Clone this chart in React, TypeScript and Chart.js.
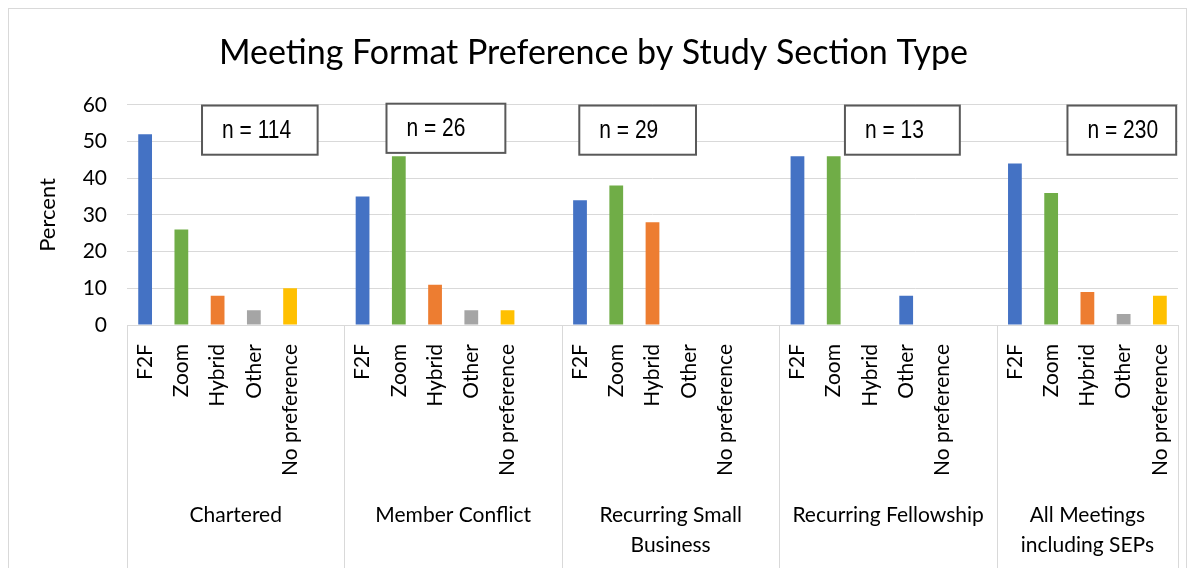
import React, { useEffect, useRef } from "react";
import { Chart, registerables } from "chart.js";

Chart.register(...registerables);

// ---- data ----
const FORMATS = ["F2F", "Zoom", "Hybrid", "Other", "No preference"];
const GROUP_LINES = [
  ["Chartered"],
  ["Member Conflict"],
  ["Recurring Small", "Business"],
  ["Recurring Fellowship"],
  ["All Meetings", "including SEPs"],
];
const chartered = [52, 26, 8, 4, 10];
const memberConflict = [35, 46, 11, 4, 4];
const recurringSmallBusiness = [34, 38, 28, 0, 0];
const recurringFellowship = [46, 46, 0, 8, 0];
const allMeetings = [44, 36, 9, 3, 8];
const SAMPLE_SIZES = ["n = 114", "n = 26", "n = 29", "n = 13", "n = 230"];
const Y_TICKS = [0, 10, 20, 30, 40, 50, 60];

// ---- styles ----
const FORMAT_COLORS = ["#4472C4", "#70AD47", "#ED7D31", "#A5A5A5", "#FFC000"];
const OVERRIDE = { group: 3, format: 3, color: "#4472C4" };
const FONT = "Lato, 'Noto Sans', sans-serif";
const NOTE_FONT = "'Liberation Sans Narrow', 'Liberation Sans', Arial, sans-serif";
// note boxes placed in axis units: [from index, to index, top value, bottom value]
const NOTE_BOXES = [
  [1.57, 4.76, 59.8, 46.4],
  [6.66, 9.94, 60.3, 46.9],
  [11.98, 15.2, 59.8, 46.4],
  [19.31, 22.48, 59.8, 46.4],
  [25.45, 28.45, 59.8, 46.4],
];

const groupValues = [chartered, memberConflict, recurringSmallBusiness, recurringFellowship, allMeetings];

const labels: string[] = [];
const values: (number | null)[] = [];
const colors: string[] = [];
const groupStarts: number[] = [];
groupValues.forEach((vals, g) => {
  groupStarts.push(labels.length);
  vals.forEach((v, f) => {
    labels.push(FORMATS[f]);
    values.push(v);
    colors.push(g === OVERRIDE.group && f === OVERRIDE.format ? OVERRIDE.color : FORMAT_COLORS[f]);
  });
  if (g < groupValues.length - 1) {
    labels.push("");
    values.push(null);
    colors.push("rgba(0,0,0,0)");
  }
});

const groupPlugin = {
  id: "groupDecor",
  afterDraw(chart: any) {
    const ctx = chart.ctx as CanvasRenderingContext2D;
    const x = chart.scales.x;
    const y = chart.scales.y;
    const area = chart.chartArea;
    const slot = x.getPixelForValue(1) - x.getPixelForValue(0);
    const bottom = chart.height;
    ctx.save();
    // dividers
    ctx.strokeStyle = "#d9d9d9";
    ctx.lineWidth = 1;
    const edges: number[] = groupStarts.map((s) => x.getPixelForValue(s) - slot / 2);
    edges.push(x.getPixelForValue(labels.length - 1) + slot / 2);
    edges.forEach((px) => {
      const xx = Math.round(px) + 0.5;
      ctx.beginPath();
      ctx.moveTo(xx, area.bottom);
      ctx.lineTo(xx, bottom);
      ctx.stroke();
    });
    // group labels
    ctx.fillStyle = "#000";
    ctx.font = `21px ${FONT}`;
    ctx.textAlign = "center";
    ctx.textBaseline = "middle";
    GROUP_LINES.forEach((lines, g) => {
      const cx = (edges[g] + edges[g + 1]) / 2;
      lines.forEach((line, i) => {
        ctx.fillText(line, cx, area.bottom + 190 + i * 30);
      });
    });
    // sample size boxes
    NOTE_BOXES.forEach(([from, to, top, bot], i) => {
      const l = x.getPixelForValue(from);
      const r = x.getPixelForValue(to);
      const t = y.getPixelForValue(top);
      const b = y.getPixelForValue(bot);
      ctx.fillStyle = "#fff";
      ctx.fillRect(l, t, r - l, b - t);
      ctx.strokeStyle = "#595959";
      ctx.lineWidth = 2;
      ctx.strokeRect(l, t, r - l, b - t);
      ctx.save();
      ctx.translate(l + 20, (t + b) / 2 + 1);
      ctx.scale(0.84, 1);
      ctx.fillStyle = "#000";
      ctx.font = `25px ${NOTE_FONT}`;
      ctx.textAlign = "left";
      ctx.textBaseline = "middle";
      ctx.fillText(SAMPLE_SIZES[i], 0, 0);
      ctx.restore();
    });
    ctx.restore();
  },
};

export default function App() {
  const ref = useRef<HTMLCanvasElement>(null);
  useEffect(() => {
    if (!ref.current) return;
    const chart = new Chart(ref.current, {
      type: "bar",
      data: {
        labels,
        datasets: [
          {
            data: values,
            backgroundColor: colors,
            borderWidth: 0,
            categoryPercentage: 1,
            barPercentage: 0.38,
          },
        ],
      },
      options: {
        animation: false,
        responsive: false,
        maintainAspectRatio: false,
        layout: { padding: { left: 0, right: 8, top: 0, bottom: 0 } },
        plugins: {
          legend: { display: false },
          tooltip: { enabled: false },
          title: {
            display: true,
            text: "Meeting Format Preference by Study Section Type",
            color: "#000",
            font: { family: FONT, size: 34, weight: "normal" },
            padding: { top: 24, bottom: 31 },
          },
        },
        scales: {
          x: {
            grid: { display: false },
            border: { display: true, color: "#d9d9d9", width: 1 },
            ticks: {
              autoSkip: false,
              minRotation: 90,
              maxRotation: 90,
              padding: 11,
              color: "#000",
              font: { family: FONT, size: 21 },
            },
            afterFit(scale: any) {
              scale.height = 244;
              scale.paddingLeft = 0;
              scale.paddingRight = 0;
            },
          },
          y: {
            min: 0,
            max: 60,
            grid: { color: "#d9d9d9", lineWidth: 1, drawTicks: false },
            border: { display: false },
            afterBuildTicks(scale: any) {
              scale.ticks = Y_TICKS.map((v) => ({ value: v }));
            },
            ticks: {
              padding: 20,
              color: "#000",
              font: { family: FONT, size: 21 },
            },
            title: {
              display: true,
              text: "Percent",
              color: "#000",
              font: { family: FONT, size: 22 },
              padding: { top: 26, bottom: 0 },
            },
            afterFit(scale: any) {
              scale.width = 118;
            },
          },
        },
      },
      plugins: [groupPlugin],
    } as any);
    return () => chart.destroy();
  }, []);
  return (
    <div style={{ width: 1177, height: 560, border: "1px solid #d9d9d9" }}>
      <canvas ref={ref} width={1177} height={560} style={{ display: "block" }} />
    </div>
  );
}
